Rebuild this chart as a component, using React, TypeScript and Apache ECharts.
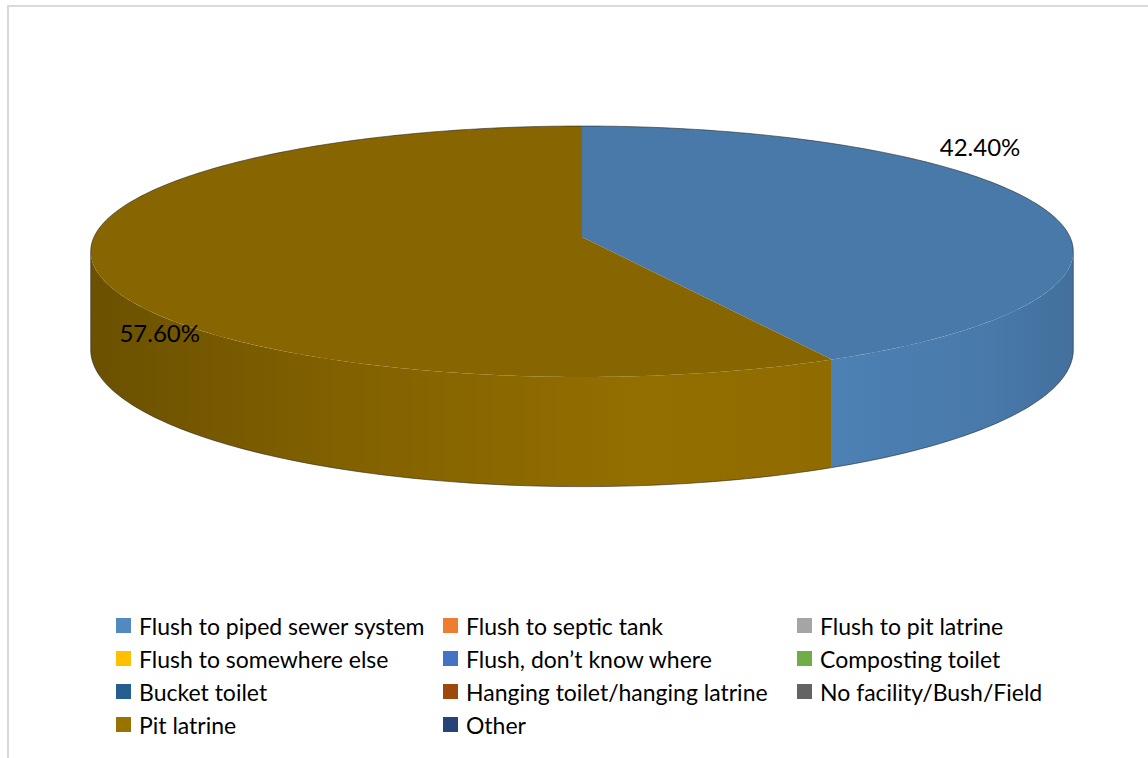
import React, { useEffect, useRef } from 'react';
import * as echarts from 'echarts';

// ---- data ----
const categories: string[] = [
  'Flush to piped sewer system',
  'Flush to septic tank',
  'Flush to pit latrine',
  'Flush to somewhere else',
  'Flush, don\u2019t know where',
  'Composting toilet',
  'Bucket toilet',
  'Hanging toilet/hanging latrine',
  'No facility/Bush/Field',
  'Pit latrine',
  'Other',
];
const shares: number[] = [42.4, 0, 0, 0, 0, 0, 0, 0, 0, 57.6, 0];

// ---- styles ----
const legendColors: string[] = [
  '#5289C0', '#ED7D31', '#A5A5A5', '#FFC000', '#4472C4', '#70AD47',
  '#255E91', '#9E480E', '#636363', '#997300', '#264478',
];
const legendColumns: number[][] = [
  [0, 3, 6, 9],
  [1, 4, 7, 10],
  [2, 5, 8],
];
const legendLefts: number[] = [116, 443, 797];

const FONT = 'Lato';
// 3D pie layout (perspective)
const CX = 582;
const CY = 237;
const RX = 488;
const RY = 123.8;
const DIST = 8.66; // camera distance in radius units
const DEPTH = 97;

function hexToRgb(h: string): number[] {
  const v = parseInt(h.slice(1), 16);
  return [(v >> 16) & 255, (v >> 8) & 255, v & 255];
}
function shade(h: string, f: number): string {
  const c = hexToRgb(h).map((x) => Math.max(0, Math.min(255, Math.round(x * f))));
  return `rgb(${c[0]},${c[1]},${c[2]})`;
}
function persp(theta: number): number {
  const r = (theta * Math.PI) / 180;
  return DIST / (DIST + Math.cos(r));
}
function pt(theta: number, bottom = false): number[] {
  const r = (theta * Math.PI) / 180;
  const k = persp(theta);
  const X = Math.sin(r);
  const Z = -Math.cos(r);
  return [CX + RX * X * k, CY + RY * Z * k + (bottom ? DEPTH * k : 0)];
}
function arc(a0: number, a1: number, bottom = false): number[][] {
  const out: number[][] = [];
  const n = Math.max(2, Math.ceil(Math.abs(a1 - a0)));
  for (let k = 0; k <= n; k++) out.push(pt(a0 + ((a1 - a0) * k) / n, bottom));
  return out;
}
// silhouette angles (where projected rim is widest)
const SIL_R = (Math.acos(-1 / DIST) * 180) / Math.PI;
const SIL_L = 360 - SIL_R;

const total = shares.reduce((a, b) => a + b, 0);
const startAngles: number[] = [];
{
  let acc = 0;
  for (const s of shares) {
    startAngles.push((acc / total) * 360);
    acc += s;
  }
}

// label placement (layout only)
function labelPosition(a0: number, a1: number): number[] {
  const mid = (a0 + a1) / 2;
  if (mid < 180) {
    const p = pt(45);
    return [p[0] + 79, p[1] - 10];
  }
  const p = pt(252);
  const q = pt(252, true);
  return [p[0] + 59, (p[1] + q[1]) / 2 + 6];
}

const EDGE = 'rgba(30,30,30,0.55)';

function makeRenderItem(i: number) {
  return (params: any, api: any) => {
    const v = api.value(0);
    if (!v) return { type: 'group', children: [] };
    const a0 = startAngles[i];
    const a1 = a0 + (v / total) * 360;
    const base = legendColors[i];
    const children: any[] = [];

    // side wall (front-visible part)
    const s = Math.max(a0, SIL_R);
    const e = Math.min(a1, SIL_L);
    if (e > s) {
      const pts = arc(s, e).concat(arc(e, s, true));
      children.push({
        type: 'polygon',
        shape: { points: pts },
        style: {
          fill: {
            type: 'linear',
            x: CX - RX,
            y: 0,
            x2: CX + RX,
            y2: 0,
            global: true,
            colorStops: [
              { offset: 0, color: shade(base, 0.7) },
              { offset: 0.25, color: shade(base, 0.84) },
              { offset: 0.55, color: shade(base, 0.96) },
              { offset: 0.75, color: shade(base, 0.94) },
              { offset: 0.92, color: shade(base, 0.88) },
              { offset: 1, color: shade(base, 0.82) },
            ],
          },
        },
      });
      children.push({
        type: 'polyline',
        shape: { points: arc(s, e, true) },
        style: { stroke: EDGE, lineWidth: 1, fill: null },
      });
    }
    // top face
    const top = [[CX, CY]].concat(arc(a0, a1));
    children.push({
      type: 'polygon',
      shape: { points: top },
      style: { fill: shade(base, 0.88) },
    });
    // back rim outline
    const rims: number[][] = [];
    if (a0 < SIL_R) rims.push([a0, Math.min(a1, SIL_R)]);
    if (a1 > SIL_L) rims.push([Math.max(a0, SIL_L), a1]);
    rims.forEach((r) =>
      children.push({
        type: 'polyline',
        shape: { points: arc(r[0], r[1]) },
        style: { stroke: EDGE, lineWidth: 1, fill: null },
      })
    );
    // vertical silhouette edges
    [SIL_R, SIL_L].forEach((ang) => {
      if (ang > a0 && ang <= a1) {
        const p = pt(ang);
        const q = pt(ang, true);
        children.push({
          type: 'line',
          shape: { x1: p[0], y1: p[1], x2: q[0], y2: q[1] },
          style: { stroke: EDGE, lineWidth: 1 },
        });
      }
    });
    // label
    const lp = labelPosition(a0, a1);
    children.push({
      type: 'text',
      x: lp[0],
      y: lp[1],
      style: {
        text: v.toFixed(2) + '%',
        fill: '#000',
        font: `24px ${FONT}`,
        align: 'center',
        verticalAlign: 'middle',
      },
    });
    return { type: 'group', children };
  };
}

export default function App() {
  const ref = useRef<HTMLDivElement>(null);
  useEffect(() => {
    if (!ref.current) return;
    const chart = echarts.init(ref.current, undefined, { renderer: 'svg' });
    const option: any = {
      animation: false,
      backgroundColor: '#fff',
      graphic: [
        {
          type: 'rect',
          shape: { x: 8, y: 6, width: 1200, height: 800 },
          style: { fill: 'none', stroke: '#D9D9D9', lineWidth: 2 },
          silent: true,
        },
      ],
      legend: legendColumns.map((col, c) => ({
        orient: 'vertical',
        left: legendLefts[c],
        top: 614,
        itemWidth: 15,
        itemHeight: 15,
        itemGap: 10,
        icon: 'rect',
        selectedMode: false,
        padding: 0,
        data: col.map((i) => categories[i]),
        textStyle: {
          fontFamily: FONT,
          fontSize: 23,
          lineHeight: 22,
          color: '#000',
          padding: [0, 0, 0, 3],
        },
      })),
      series: categories.map((name, i) => ({
        type: 'custom',
        name,
        coordinateSystem: 'none',
        itemStyle: { color: legendColors[i] },
        data: [[shares[i]]],
        renderItem: makeRenderItem(i),
      })),
    };
    chart.setOption(option);
    return () => chart.dispose();
  }, []);
  return (
    <div
      ref={ref}
      style={{ position: 'absolute', left: 0, top: 0, width: 1148, height: 758 }}
    />
  );
}
